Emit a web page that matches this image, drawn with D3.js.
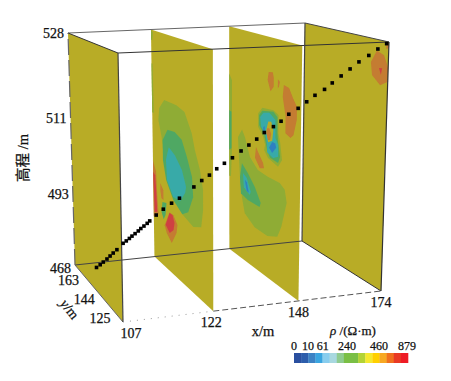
<!DOCTYPE html>
<html>
<head>
<meta charset="utf-8">
<script src="https://cdn.jsdelivr.net/npm/d3@7"></script>
<style>
  html, body { margin: 0; background: #fff; }
  svg { display: block; }
  text { font-family: "Liberation Serif", serif; fill: #111; stroke: #111; stroke-width: 0.25px; }
</style>
</head>
<body>
<script>
// axis ticks
var xTicks = [107, 122, 148, 174];
var yTicks = [125, 144, 163];
var zTicks = [468, 493, 511, 528];

// colour bar
var legendTicks = [0, 10, 61, 240, 460, 879];
var legendColors = ["#2a4f9f", "#2c5dab", "#3c82c4", "#3aa5e0", "#88cdee", "#a8d8e0", "#8fcb8f", "#7abf45",
  "#7abf45", "#b3d335", "#f5e92e", "#ffd000", "#f7a823", "#f0701f", "#e93a25", "#ee1c25"];

// resistivity classes used on the sections
var rhoLevels = [10, 61, 150, 240, 330, 560, 800];
var rhoColors = ["#2e80c2", "#38aaa8", "#4fa864", "#8fac35", "#b8ac28", "#c47b30", "#cf3f42"];

// survey points at the surface: x, y, elevation
var trackX = [107, 107.6, 108.1, 108.7, 109.2, 109.7, 110.3, 111.3, 111.8, 112.3, 112.7, 113.2, 113.7, 114.1, 114.6, 115.1, 115.5, 116.5, 117.6, 118.9, 120.1, 122.5, 124.7, 126.8, 128.8, 130.9, 133.1, 135.4, 137.5, 139.6, 141.6, 144, 146, 148, 150.5, 152.8, 155, 157.5, 159.5, 161.8, 164.1, 166.4, 168.9, 171.2, 173.4];
var trackY = [144.3, 143.9, 143.5, 143.1, 142.7, 142.3, 141.9, 141.2, 140.8, 140.5, 140.1, 139.8, 139.4, 139.1, 138.8, 138.4, 138.1, 137.3, 136.5, 135.7, 134.8, 133.1, 132.3, 131.4, 130.6, 129.8, 129, 128, 127.2, 126.4, 125.6, 124.6, 123.8, 123, 122, 121.2, 120.4, 119.4, 118.6, 117.7, 116.8, 116, 115, 114.1, 113.2];
var trackZ = [475.8, 476.7, 477.6, 478.6, 479.6, 480.6, 481.7, 483.8, 484.6, 485.4, 486.2, 487, 487.9, 488.7, 489.5, 490.4, 491.2, 493.1, 494.4, 495.7, 496.8, 499.3, 500.7, 501.9, 503.3, 504.5, 505.7, 507.2, 508.5, 509.8, 511.2, 512.3, 513.3, 514.6, 515.7, 516.9, 518.1, 519.2, 520.4, 521.7, 523, 524.3, 525.5, 526.7, 527.7];

// contour outlines on section x=122, [y, elevation]
var s122Outer = [[159.4,514.8],[164.2,512.7],[165.2,510],[162.3,506.4],[160.4,501.9],[157.5,497.7],[151.7,494.1],[143,491],[132.3,489.5],[124.6,491.4],[122.7,495.9],[122.7,500.2],[125.6,504.1],[130.4,507.8],[133.3,511.1],[140.1,514.4],[147.8,514.9]];
var s122Mid = [[156.5,508.9],[161.3,505.8],[161.3,501.1],[158.4,496.9],[151.7,493.4],[143,491],[137.2,493.1],[132.3,497.2],[133.3,501.5],[138.1,505.2],[143,508.4],[149.7,509.3]];
var s122Teal = [[155.5,505],[158.4,501.6],[157.5,497],[151.7,494.1],[144.9,494.3],[140.1,496.9],[139.1,498.4],[143,501.6],[149.7,504]];
var s122Orange = [[155.5,488.4],[160.4,482.5],[158.4,480.3],[153.6,478.3],[148.8,483.1],[147.8,486.1],[151.7,488.4]];
var s122Red = [[155.5,488.1],[159.4,482.9],[155.5,481.2],[151.7,483.3],[150.7,486],[152.6,488.2]];
var s122EdgeOrange = [[171,499.5],[168.1,497.2],[167.1,489.4],[166.2,484.7],[171,482.6]];
var s122EdgeRed = [[171,496.7],[169.1,496.2],[168.1,491],[167.6,485.1],[170,484.3]];
var s122SmallOrange = [[164.2,495.2],[161.3,494],[161.3,491],[163.3,491.2],[164.2,493.5]];
var s122SmallTeal = [[162.3,490.1],[158.4,490.8],[159.4,486.3],[161.3,484.3],[163.3,486.3]];
var s122TopGreen = [[171,528],[169.3,527.5],[169.8,525.9],[171,525.9]];
var s122StripGreen = [[171,521.1],[170,521.1],[169.5,511.1],[171,511.1]];

// contour outlines on section x=148
var s148LowOuter = [[160.6,507.1],[163.9,504.8],[163.1,500.1],[162.2,495.4],[160.6,489.8],[158.2,484.7],[150,482.1],[139.4,482],[131.2,483.9],[128,488],[123.8,495.6],[125.5,498.3],[129.6,499.2],[139.4,499.1],[147.6,499.4],[154.1,501.5],[158.2,505.6]];
var s148LowMid = [[160.6,499],[162.2,495.4],[161.4,491],[155.7,490.1],[146,490.2],[145.1,491.8],[150,495.1],[155.7,497.4]];
var s148LowTeal = [[159.8,496.8],[159,493.5],[154.1,492.3],[153.3,493.4],[156.6,496.1]];
var s148LowBlue = [[158.2,495.4],[156.6,493],[154.9,492.8],[156.6,495.1]];
var s148CoreOuter = [[144.3,513.8],[147.6,512.4],[147.6,509.5],[143.4,507.7],[141.8,506.1],[142.6,504.8],[139.4,503.4],[131.2,502.6],[128,504.5],[129.6,508.1],[131.2,510.1],[131.2,513.7],[135.3,514.2]];
var s148CoreMid = [[144.3,513.2],[146.8,512.1],[146.8,510],[142.6,508.3],[140.2,505.1],[137.8,503.7],[131.2,503.4],[129.6,505],[131.2,507.8],[132,510.1],[132,513.2],[135.3,513.9]];
var s148CoreTeal = [[143.4,512.9],[146,511.8],[145.1,509.8],[141.8,508.8],[140.2,506.2],[140.2,504.6],[135.3,504],[131.2,504.8],[131.2,507.5],[133.6,508.7],[133.6,512.5],[138.6,513.4]];
var s148CoreGap = [[139.4,511.6],[141,509.6],[139.4,507],[136.1,507.8],[135.3,510.2],[137,511.8]];
var s148CoreOrange = [[140.2,510.1],[141,508.9],[139.4,507.5],[137.8,507.7],[137,509.2],[138.6,510.3]];
var s148CoreSliver = [[143.4,510],[143.4,508.4],[142.2,508.5],[142.2,510.3]];
var s148CoreBlue = [[136.1,507.5],[138.6,505.9],[136.1,505],[132.8,506.6],[133.6,507.5]];
var s148RightOrange = [[127.2,519.7],[128,517.4],[125.5,513.9],[125.5,510.8],[121.4,510.2],[119,511.1],[116.5,514.2],[116.5,516.5],[119.8,517.9],[123,519.5]];
var s148TopOrange = [[139.4,521.2],[140.2,519.6],[137.8,517.6],[135.3,518.7],[135.3,520.4],[136.1,521.4]];
var s148TinyOrange = [[132,520.4],[132,518.7],[131.2,519],[130.4,520]];
var s148LowOrange = [[149.2,504.6],[150,501.9],[146,500.1],[142.6,500.6],[143.4,501.7],[147.6,503.7]];
var s148Strip = [[171,518.2],[168.8,517],[168.8,500.9],[169.6,494.4],[171,494.2]];
var s148StripTeal = [[171,510.4],[169.2,510.2],[169.2,501.3],[171,500.6]];

// contour outlines on section x=174
var s174Orange = [[121.1,525.9],[125,523.4],[124,521],[118.2,519.5],[113.3,520.5],[113,523.2],[116.1,525.3]];
var s174Red = [[119.3,522.7],[117.9,521.5],[117.2,522.8]];
var s174Corner = [[114.7,527.7],[113,527.8],[113,526.9],[114.7,526.6]];

// drawing order matters, later ones sit on top
var contours = [
  { x: 122, rho: 240, pts: s122TopGreen },
  { x: 122, rho: 240, pts: s122StripGreen },
  { x: 122, rho: 240, pts: s122Outer },
  { x: 122, rho: 150, pts: s122Mid },
  { x: 122, rho: 61, pts: s122Teal },
  { x: 122, rho: 560, pts: s122Orange },
  { x: 122, rho: 800, pts: s122Red },
  { x: 122, rho: 560, pts: s122EdgeOrange },
  { x: 122, rho: 800, pts: s122EdgeRed },
  { x: 122, rho: 560, pts: s122SmallOrange },
  { x: 122, rho: 150, pts: s122SmallTeal },
  { x: 148, rho: 240, pts: s148Strip },
  { x: 148, rho: 150, pts: s148StripTeal },
  { x: 148, rho: 240, pts: s148LowOuter },
  { x: 148, rho: 150, pts: s148LowMid },
  { x: 148, rho: 61, pts: s148LowTeal },
  { x: 148, rho: 10, pts: s148LowBlue },
  { x: 148, rho: 240, pts: s148CoreOuter },
  { x: 148, rho: 150, pts: s148CoreMid },
  { x: 148, rho: 61, pts: s148CoreTeal },
  { x: 148, rho: 330, pts: s148CoreGap },
  { x: 148, rho: 560, pts: s148CoreOrange },
  { x: 148, rho: 10, pts: s148CoreSliver },
  { x: 148, rho: 10, pts: s148CoreBlue },
  { x: 148, rho: 560, pts: s148RightOrange },
  { x: 148, rho: 560, pts: s148TopOrange },
  { x: 148, rho: 560, pts: s148TinyOrange },
  { x: 148, rho: 560, pts: s148LowOrange },
  { x: 174, rho: 560, pts: s174Orange },
  { x: 174, rho: 800, pts: s174Red },
  { x: 174, rho: 560, pts: s174Corner }
];

var width = 451;
var height = 381;

var svg = d3.select("body").append("svg")
  .attr("width", width)
  .attr("height", height);

var defs = svg.append("defs");
defs.append("filter").attr("id", "soft")
  .append("feGaussianBlur").attr("stdDeviation", 0.35);

// the ticks are evenly spread in the picture, not by metres
var xScale = d3.scaleLinear().domain(xTicks).range([0, 0.35, 0.68, 1]);
var yScale = d3.scaleLinear().domain([171, 113]).range([0, 1]);
var zScale = d3.scaleLinear().domain(zTicks).range([0, 0.306, 0.634, 1]);
var rhoColor = d3.scaleOrdinal().domain(rhoLevels).range(rhoColors);

// box corners on screen: [x side][y side][z side], 0 = low end of the scale
var box = [
  [[[75, 265], [68, 33]], [[123, 322], [118, 53]]],
  [[[302, 241], [305, 23]], [[381, 291], [389, 42]]]
];

function lerp(a, b, t) {
  return [a[0] + (b[0] - a[0]) * t, a[1] + (b[1] - a[1]) * t];
}

function project(x, y, z) {
  var u = xScale(x), v = yScale(y), w = zScale(z);
  var left = lerp(lerp(box[0][0][0], box[0][1][0], v), lerp(box[0][0][1], box[0][1][1], v), w);
  var right = lerp(lerp(box[1][0][0], box[1][1][0], v), lerp(box[1][0][1], box[1][1][1], v), w);
  return lerp(left, right, u);
}

var line = d3.line();
var yRear = yScale.invert(0), yFront = yScale.invert(1);
var zLow = zScale.domain()[0], zHigh = zScale.domain()[3];

// sections
var planes = svg.append("g").attr("filter", "url(#soft)");
planes.selectAll(".plane")
  .data(xTicks)
  .enter().append("path")
  .attr("class", "plane")
  .attr("fill", rhoColor(330))
  .attr("d", function(x) {
    return line([project(x, yRear, zHigh), project(x, yFront, zHigh), project(x, yFront, zLow), project(x, yRear, zLow)]) + "Z";
  });

planes.selectAll(".contour")
  .data(contours)
  .enter().append("path")
  .attr("class", "contour")
  .attr("fill", function(d) { return rhoColor(d.rho); })
  .attr("d", function(d) {
    return line(d.pts.map(function(p) { return project(d.x, p[0], p[1]); })) + "Z";
  });

// box edges
function edge(a, b, color, w, dash) {
  svg.append("path")
    .attr("d", line([a, b]))
    .attr("fill", "none")
    .attr("stroke", color)
    .attr("stroke-width", w)
    .attr("stroke-dasharray", dash);
}

var xMin = xTicks[0], xMax = xTicks[3];
edge(project(xMin, yRear, zHigh), project(xMax, yRear, zHigh), "#666", 1.1);
edge(project(xMin, yFront, zHigh), project(xMax, yFront, zHigh), "#333", 1);
edge(project(xMin, yRear, zLow), project(xMax, yRear, zLow), "#444", 1);
edge(project(xMin, yRear, zHigh), project(xMin, yFront, zHigh), "#333", 1);
edge(project(xMin, yRear, zLow), project(xMin, yFront, zLow), "#666", 1);
edge(project(xMax, yRear, zHigh), project(xMax, yFront, zHigh), "#444", 1);
edge(project(xMax, yRear, zLow), project(xMax, yFront, zLow), "#333", 1);
edge(project(xMin, yRear, zLow), project(xMin, yRear, zHigh), "#666", 1.2, "16 5");
edge(project(xMin, yFront, zLow), project(xMin, yFront, zHigh), "#444", 1.2);
edge(project(xMax, yRear, zLow), project(xMax, yRear, zHigh), "#444", 1.2);
edge(project(xMax, yFront, zLow), project(xMax, yFront, zHigh), "#333", 1.2);
edge(project(xTicks[0], yFront, zLow), project(xTicks[1], yFront, zLow), "#999", 1, "1 6");
edge(project(xTicks[1], yFront, zLow), project(xTicks[3], yFront, zLow), "#555", 1, "6 3");

// survey points
svg.selectAll(".pt")
  .data(trackX)
  .enter().append("rect")
  .attr("class", "pt")
  .attr("width", 3.6)
  .attr("height", 3.6)
  .attr("fill", "#000")
  .attr("transform", function(d, i) {
    var p = project(d, trackY[i], trackZ[i]);
    return "translate(" + (p[0] - 1.8) + "," + (p[1] - 1.8) + ")";
  });

// tick labels
svg.selectAll(".ztick")
  .data(zTicks)
  .enter().append("text")
  .attr("class", "ztick")
  .attr("font-size", 14)
  .attr("text-anchor", "end")
  .attr("dy", function(d) { return d === 468 ? "0.55em" : "0.33em"; })
  .attr("x", function(d) { return project(xMin, yRear, d)[0] - 4; })
  .attr("y", function(d) { return project(xMin, yRear, d)[1]; })
  .text(function(d) { return d; });

svg.selectAll(".ytick")
  .data(yTicks)
  .enter().append("text")
  .attr("class", "ytick")
  .attr("font-size", 14)
  .attr("text-anchor", "middle")
  .attr("dy", "0.33em")
  .attr("x", function(d) { return project(xMin, d, zLow)[0] - 13; })
  .attr("y", function(d) { return project(xMin, d, zLow)[1] + 8; })
  .text(function(d) { return d; });

svg.selectAll(".xtick")
  .data(xTicks)
  .enter().append("text")
  .attr("class", "xtick")
  .attr("font-size", 14)
  .attr("text-anchor", "middle")
  .attr("dy", "0.33em")
  .attr("x", function(d) { return project(d, yFront, zLow)[0] + (d === 107 ? 8 : d === 122 ? -2 : 0); })
  .attr("y", function(d) { return project(d, yFront, zLow)[1] + 11; })
  .text(function(d) { return d; });

// axis titles
var zTitle = svg.append("text")
  .attr("transform", "translate(28,158) rotate(-90)")
  .attr("text-anchor", "middle")
  .attr("font-size", 14.5);
zTitle.append("tspan").style("font-family", "'Noto Sans CJK SC'").text("高程");
zTitle.append("tspan").text(" /m");

var yTitle = svg.append("text")
  .attr("transform", "translate(66,312) rotate(52)")
  .attr("text-anchor", "middle")
  .attr("font-size", 14);
yTitle.append("tspan").style("font-style", "italic").text("y");
yTitle.append("tspan").text("/m");

svg.append("text")
  .attr("x", 263)
  .attr("y", 336)
  .attr("text-anchor", "middle")
  .attr("font-size", 14.5)
  .text("x/m");

var rhoTitle = svg.append("text")
  .attr("x", 353)
  .attr("y", 335)
  .attr("text-anchor", "middle")
  .attr("font-size", 13);
rhoTitle.append("tspan").style("font-style", "italic").text("ρ");
rhoTitle.append("tspan").text(" /(Ω·m)");

// colour bar
var legendBand = d3.scaleBand()
  .domain(d3.range(legendColors.length))
  .range([294, 408]);

svg.selectAll(".cell")
  .data(legendColors)
  .enter().append("rect")
  .attr("class", "cell")
  .attr("x", function(d, i) { return legendBand(i); })
  .attr("y", 353)
  .attr("width", legendBand.bandwidth() + 0.3)
  .attr("height", 10)
  .attr("fill", function(d) { return d; });

var legendScale = d3.scaleLinear().domain(legendTicks).range([294, 308, 322.7, 347, 379, 407]);

svg.selectAll(".ltick")
  .data(legendTicks)
  .enter().append("text")
  .attr("class", "ltick")
  .attr("font-size", 12)
  .attr("text-anchor", "middle")
  .attr("x", function(d) { return legendScale(d); })
  .attr("y", 350)
  .text(function(d) { return d; });
</script>
</body>
</html>
